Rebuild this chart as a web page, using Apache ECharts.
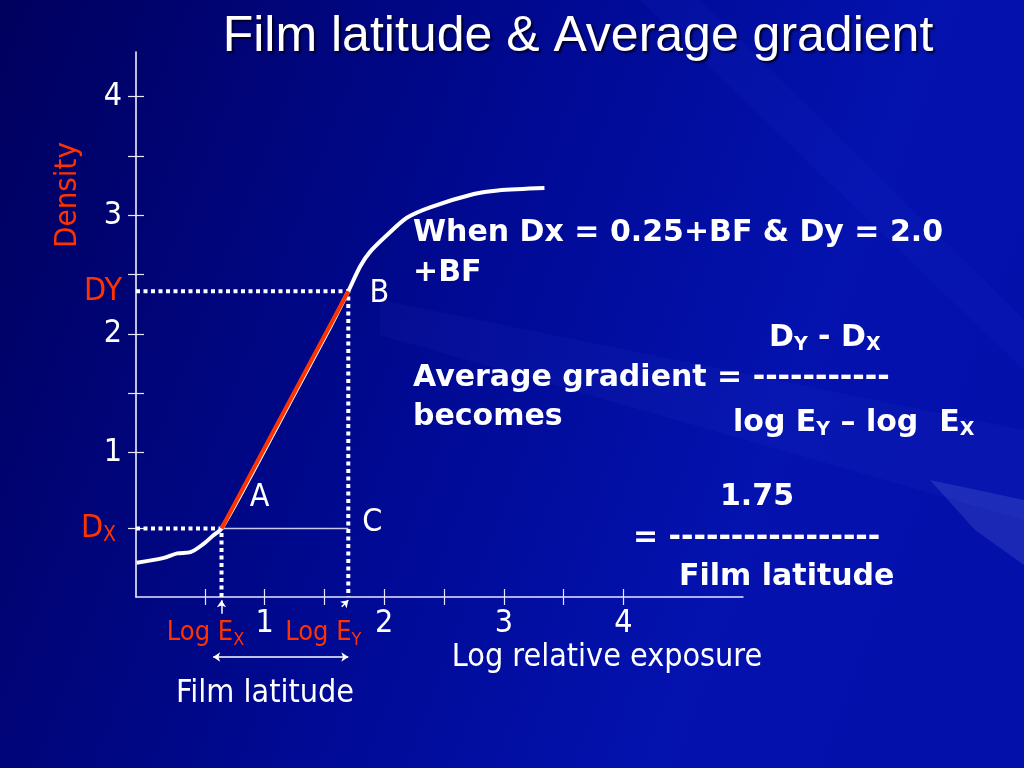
<!DOCTYPE html>
<html><head><meta charset="utf-8">
<script src="https://cdn.jsdelivr.net/npm/echarts@6/dist/echarts.min.js"></script>
<style>html,body{margin:0;padding:0;background:#000060;}#c{width:1024px;height:768px;}</style>
</head><body><div id="c"></div>
<script>
// ---------------- data ----------------
const exposure = [-0.07, 0.15, 0.27, 0.38, 0.49, 0.57, 0.64, 0.91, 1.21, 1.55, 1.70, 1.80, 1.88, 2.02, 2.19, 2.39, 2.75, 2.95, 3.34];
const density  = [0.07, 0.11, 0.15, 0.16, 0.23, 0.30, 0.36, 0.85, 1.42, 2.06, 2.36, 2.57, 2.69, 2.83, 2.98, 3.07, 3.18, 3.21, 3.23];
const logEx = 0.64, logEy = 1.70;
const Dx = 0.36, Dy = 2.36;
const xTickLabels = [1, 2, 3, 4];
const yTickLabels = [1, 2, 3, 4];
const xTicks = [0.5, 1, 1.5, 2, 2.5, 3, 3.5, 4];
const yTicks = [Dx, 1, 1.5, 2, 2.5, 3, 3.5, 4];

// ---------------- layout ----------------
const X_MIN = -0.075, X_MAX = 5.0, Y_MIN = -0.218, Y_MAX = 4.377;
const ARROW_HEAD_Y = -0.245, ARROW_TAIL_Y = -0.36, ARROW_TAIL_Y2 = -0.30, LAT_Y = -0.724;
const RED = '#ff3300';

function hasFont(name){
  const c = document.createElement('canvas').getContext('2d');
  c.font = '72px monospace'; const b = c.measureText('Film latitude mmWw').width;
  c.font = '72px "' + name + '", monospace'; return c.measureText('Film latitude mmWw').width !== b;
}
const COND = hasFont('DejaVu Sans Condensed');
const REG = COND ? 'DejaVu Sans Condensed' : 'DejaVu Sans';
const RS = COND ? 32 : 29;
const LS = COND ? 27 : 25;
const BOLD = 'DejaVu Sans';
const BS = 30;

const chart = echarts.init(document.getElementById('c'));

const subStyle = (color, size, padR) => ({color: color, fontSize: size, fontFamily: REG, padding: [14, padR || 0, 0, 0]});
const gm = {fill: '#ffffff', fontSize: BS, fontWeight: 'bold', fontFamily: BOLD};
const gs = {fill: '#ffffff', fontSize: 19, fontWeight: 'bold', fontFamily: BOLD, padding: [15, 0, 0, 0]};
const boldText = (x, y, text) => ({type: 'text', x: x, y: y, z: 10, style: Object.assign({text: text, align: 'left', verticalAlign: 'middle'}, gm)});

const option = {
  backgroundColor: {type: 'linear', x: 0, y: 0, x2: 1, y2: 0.5, colorStops: [
    {offset: 0, color: '#00005e'}, {offset: 0.5, color: '#000a94'}, {offset: 0.8, color: '#0412ae'}, {offset: 1, color: '#0410aa'}]},
  animation: false,
  grid: {left: 136, right: 281, top: 52, bottom: 171, outerBoundsMode: 'none'},
  xAxis: [{
    type: 'value', min: X_MIN, max: X_MAX,
    splitLine: {show: false},
    axisLine: {show: true, onZero: false, lineStyle: {color: '#e6e6ff', width: 1.5}},
    axisTick: {show: true, customValues: xTicks, length: 8, lineStyle: {color: '#e6e6ff', width: 1.2}},
    axisLabel: {customValues: xTickLabels, margin: 11, color: '#ffffff', fontSize: RS, fontFamily: REG}
  }, {
    type: 'value', min: X_MIN, max: X_MAX, position: 'bottom',
    splitLine: {show: false}, axisLine: {show: false, onZero: false}, axisLabel: {show: false},
    axisTick: {show: true, inside: true, customValues: xTicks, length: 8, lineStyle: {color: '#e6e6ff', width: 1.2}}
  }],
  yAxis: [{
    type: 'value', min: Y_MIN, max: Y_MAX,
    splitLine: {show: false},
    axisLine: {show: true, onZero: false, lineStyle: {color: '#ffffff', width: 1.5}},
    axisTick: {show: true, customValues: yTicks, length: 8, lineStyle: {color: '#e6e6ff', width: 1.2}},
    axisLabel: {
      customValues: [Dx].concat(yTickLabels.slice(0, 2), [Dy], yTickLabels.slice(2)),
      margin: 14,
      formatter: function (v) {
        if (v === Dx) return '{r|D}{rs|X}';
        if (v === Dy) return '{r|DY}';
        return '{w|' + v + '}';
      },
      rich: {
        w: {color: '#ffffff', fontSize: RS, fontFamily: REG},
        r: {color: RED, fontSize: RS, fontFamily: REG},
        rs: subStyle(RED, Math.round(RS * 0.66), 6)
      }
    }
  }, {
    type: 'value', min: Y_MIN, max: Y_MAX, position: 'left',
    splitLine: {show: false}, axisLine: {show: false, onZero: false}, axisLabel: {show: false},
    axisTick: {show: true, inside: true, customValues: yTicks, length: 8, lineStyle: {color: '#e6e6ff', width: 1.2}}
  }],
  series: [
    {
      name: 'curve', type: 'line', smooth: 0.3, symbol: 'none', z: 3,
      data: exposure.map((x, i) => [x, density[i]]),
      lineStyle: {color: '#ffffff', width: 4}
    },
    {
      name: 'dy guide', type: 'line', symbol: 'none', z: 2,
      data: [[X_MIN, Dy], [logEy, Dy], [logEy, Y_MIN]],
      lineStyle: {color: '#ffffff', width: 4, type: [4, 3.5]}
    },
    {
      name: 'dx guide', type: 'line', symbol: 'none', z: 2,
      data: [[X_MIN, Dx], [logEx, Dx], [logEx, Y_MIN]],
      lineStyle: {color: '#ffffff', width: 4, type: [4, 3.5]}
    },
    {
      name: 'AC', type: 'line', symbol: 'none', z: 2,
      data: [[logEx, Dx], [logEy, Dx]],
      lineStyle: {color: '#c8c8ea', width: 1.5}
    },
    {
      name: 'gradient', type: 'line', symbol: 'none', z: 4,
      data: [[logEx, Dx], [logEy, Dy]],
      lineStyle: {color: RED, width: 4}
    },
    {
      name: 'points', type: 'scatter', symbolSize: 0, z: 5, clip: false,
      itemStyle: {opacity: 1},
      label: {show: true, position: [0, 0], align: 'center', verticalAlign: 'middle', color: '#ffffff', opacity: 1, fontSize: RS, fontFamily: REG, formatter: '{b}'},
      data: [
        {name: 'A', value: [logEx, Dx], label: {offset: [38, -31]}},
        {name: 'B', value: [logEy, Dy], label: {offset: [31, 2]}},
        {name: 'C', value: [logEy, Dx], label: {offset: [24, -6]}}
      ]
    },
    {
      name: 'feet', type: 'scatter', symbolSize: 0, z: 5, clip: false,
      itemStyle: {opacity: 1},
      label: {show: true, position: [0, 0], align: 'center', verticalAlign: 'middle', opacity: 1,
        rich: {r: {color: RED, fontSize: LS, fontFamily: REG}, rs: subStyle(RED, Math.round(LS * 0.68))}},
      data: [
        {value: [logEx, Y_MIN], label: {formatter: '{r|Log E}{rs|X}', offset: [-16, 36]}},
        {value: [logEy, Y_MIN], label: {formatter: '{r|Log E}{rs|Y}', offset: [-25, 36]}}
      ]
    },
    {
      name: 'arrows', type: 'lines', coordinateSystem: 'cartesian2d', clip: false, z: 5,
      symbol: ['none', 'arrow'], symbolSize: 7,
      lineStyle: {color: '#ffffff', width: 1.5, opacity: 1, curveness: 0},
      data: [
        {coords: [[logEx, ARROW_TAIL_Y], [logEx, ARROW_HEAD_Y]]},
        {coords: [[logEy - 0.055, ARROW_TAIL_Y2], [logEy, ARROW_HEAD_Y]]}
      ]
    },
    {
      name: 'latitude', type: 'lines', coordinateSystem: 'cartesian2d', clip: false, z: 5,
      symbol: ['arrow', 'arrow'], symbolSize: 7,
      lineStyle: {color: '#ffffff', width: 1.5, opacity: 1, curveness: 0},
      data: [{coords: [[logEx - 0.07, LAT_Y], [logEy, LAT_Y]]}]
    }
  ],
  graphic: [
    {type: 'polygon', z: 0, silent: true, shape: {points: [[380, 300], [1024, 430], [1024, 520], [380, 335]]}, style: {fill: 'rgba(90,120,255,0.05)'}},
    {type: 'polygon', z: 0, silent: true, shape: {points: [[930, 480], [1024, 500], [1024, 565], [975, 530]]}, style: {fill: 'rgba(170,190,255,0.14)'}},
    {type: 'polygon', z: 0, silent: true, shape: {points: [[640, 0], [700, 0], [1024, 320], [1024, 370]]}, style: {fill: 'rgba(60,90,255,0.06)'}},
    {type: 'text', x: 578, y: 37, z: 10, style: {text: 'Film latitude & Average gradient', fill: '#ffffff', fontSize: 50, fontFamily: 'Liberation Sans', align: 'center', verticalAlign: 'middle', textShadowColor: 'rgba(0,0,30,0.9)', textShadowOffsetX: 2, textShadowOffsetY: 2, textShadowBlur: 2}},
    {type: 'text', x: 68, y: 195, rotation: Math.PI / 2, z: 10, style: {text: 'Density', fill: RED, fontSize: RS - 1, fontFamily: REG, align: 'center', verticalAlign: 'middle'}},
    {type: 'text', x: 607, y: 658, z: 10, style: {text: 'Log relative exposure', fill: '#ffffff', fontSize: RS, fontFamily: REG, align: 'center', verticalAlign: 'middle'}},
    {type: 'text', x: 265, y: 694, z: 10, style: {text: 'Film latitude', fill: '#ffffff', fontSize: RS, fontFamily: REG, align: 'center', verticalAlign: 'middle'}},
    boldText(413, 233, 'When Dx = 0.25+BF & Dy = 2.0'),
    boldText(413, 273, '+BF'),
    {type: 'text', x: 769, y: 338, z: 10, style: {text: '{m|D}{s|Y}{m| - D}{s|X}', align: 'left', verticalAlign: 'middle', rich: {m: gm, s: gs}}},
    boldText(413, 378, 'Average gradient = -----------'),
    boldText(413, 417, 'becomes'),
    {type: 'text', x: 733, y: 423, z: 10, style: {text: '{m|log E}{s|Y}{m| \u2013 log  E}{s|X}', align: 'left', verticalAlign: 'middle', rich: {m: gm, s: gs}}},
    boldText(720, 497, '1.75'),
    boldText(633, 538, '= -----------------'),
    boldText(679, 577, 'Film latitude')
  ]
};
chart.setOption(option);
</script>
</body></html>
